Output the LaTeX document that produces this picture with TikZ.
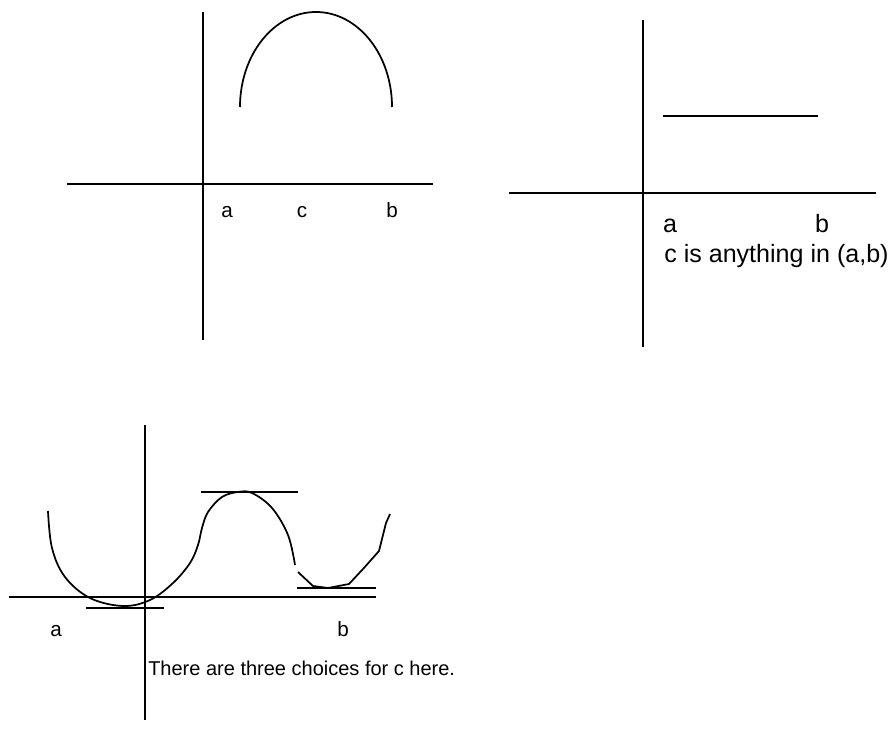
\documentclass[tikz,border=0pt]{standalone}
\usepackage{fontspec}
\setmainfont{Liberation Sans}
\usetikzlibrary{positioning}

\begin{document}
\begin{tikzpicture}[x=0.75pt,y=-0.75pt,
    axis/.style={line width=1.3pt},
    curve/.style={line width=1.3pt,line join=round},
    lbl/.style={inner sep=0pt,anchor=base,font=\fontsize{15.5}{18}\selectfont},
    big/.style={font=\fontsize{18.8}{22}\selectfont},
    txt/.style={inner sep=0pt,anchor=base west,font=\fontsize{15}{18}\selectfont}]
      \useasboundingbox (0,0) rectangle (895,749);
      % top left: arc over [a,b]
      \draw[axis] (203,12) -- (203,340);
      \draw[axis] (67,184) -- (433,184);
      \draw[curve] (240,107) arc[start angle=180,end angle=360,x radius=76,y radius=95];
      \node[lbl] (a1) at (227,217) {a};
      \node[lbl] (c1) at (302,217) {c};
      \node[lbl] (b1) at (392,217) {b};
      % top right: constant function
      \draw[axis] (643,20) -- (643,347);
      \draw[axis] (509,193) -- (876,193);
      \draw[curve] (663,116) -- (818,116);
      \node[lbl,big] (a2) at (670,232) {a};
      \node[lbl,big] (b2) at (822,232) {b};
      \node[txt,big] (note2) at (664,262) {c is anything in (a,b)};
      % bottom: three places with horizontal tangent
      \draw[axis] (145,425) -- (145,720);
      \draw[axis] (9,597) -- (376,597);
      \draw[curve] plot[smooth,tension=0.6] coordinates {(48,511) (52,548) (65,577) (90,598)
        (123,606) (150,600) (173,583) (190,563) (198,545) (202,528) (208,512)
        (222,497) (238,492) (252,493) (272,508) (288,535) (295,565)};
      \draw[curve] (298,572) -- (313,586) -- (328,588) -- (349,584) -- (363,569)
        -- (379,551) -- (386,523) -- (390,514);
      \draw[curve] (86,608) -- (164,608);
      \draw[curve] (201,492) -- (298,492);
      \draw[curve] (297,588) -- (376,588);
      \node[lbl] (a3) at (56,636) {a};
      \node[lbl] (b3) at (343,636) {b};
      \node[txt] (note3) at (148,675) {There are three choices for c here.};
\end{tikzpicture}
\end{document}
